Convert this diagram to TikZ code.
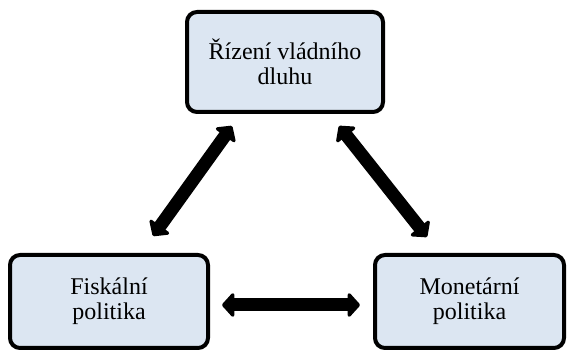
\documentclass[tikz,border=0pt]{standalone}
\usepackage{fontspec}
\setmainfont{Liberation Serif}
\usetikzlibrary{arrows.meta}
\begin{document}
\begin{tikzpicture}[x=1pt,y=1pt,
  box/.style={draw=black, line width=4pt, rounded corners=10pt, fill={rgb,255:red,220;green,230;blue,242},
    align=center, font=\fontsize{24}{25}\selectfont, inner sep=0pt},
  dbl/.style={line width=13pt, {Triangle[length=13pt,width=28pt,round]}-{Triangle[length=13pt,width=28pt,round]}}]
\useasboundingbox (0,0) rectangle (567,352);
\node[box, minimum width=196pt, minimum height=100pt] (top) at (285,290) {Řízení vládního\\dluhu};
\node[box, minimum width=198pt, minimum height=93pt] (fis) at (109,50.5) {Fiskální\\politika};
\node[box, minimum width=189pt, minimum height=93pt] (mon) at (469.5,50.5) {Monetární\\politika};
\coordinate (a1) at (232,226);
\coordinate (a2) at (153,116);
\coordinate (b1) at (339,226);
\coordinate (b2) at (427,115);
\coordinate (c1) at (222,47);
\coordinate (c2) at (360,47);
\draw[dbl] (a1) -- (a2);
\draw[dbl] (b1) -- (b2);
\draw[dbl] (c1) -- (c2);
\end{tikzpicture}
\end{document}
